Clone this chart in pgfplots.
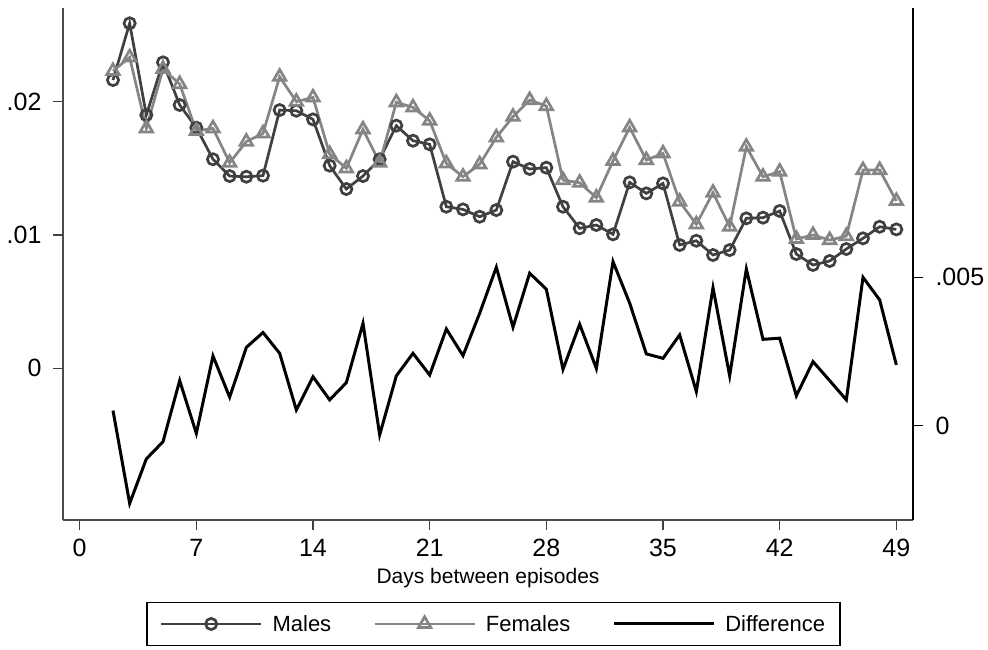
\documentclass[border=0pt]{standalone}
\usepackage{pgfplots}
\pgfplotsset{compat=1.18}
\usepackage{fontspec}
\setmainfont{Liberation Sans}
\definecolor{mgray}{HTML}{404040}
\definecolor{fgray}{HTML}{858585}
\pgfplotstableread{
x m f
2 0.02162 0.02230
3 0.02588 0.02332
4 0.01900 0.01800
5 0.02295 0.02245
6 0.01975 0.02132
7 0.01805 0.01780
8 0.01568 0.01800
9 0.01442 0.01542
10 0.01437 0.01700
11 0.01445 0.01762
12 0.01937 0.02187
13 0.01932 0.02000
14 0.01867 0.02032
15 0.01520 0.01607
16 0.01345 0.01500
17 0.01442 0.01792
18 0.01568 0.01542
19 0.01820 0.01995
20 0.01707 0.01957
21 0.01680 0.01857
22 0.01212 0.01537
23 0.01192 0.01437
24 0.01137 0.01530
25 0.01187 0.01732
26 0.01550 0.01887
27 0.01495 0.02012
28 0.01505 0.01967
29 0.01212 0.01412
30 0.01050 0.01392
31 0.01075 0.01280
32 0.01005 0.01555
33 0.01395 0.01807
34 0.01312 0.01562
35 0.01387 0.01612
36 0.00925 0.01250
37 0.00957 0.01080
38 0.00850 0.01317
39 0.00887 0.01062
40 0.01125 0.01662
41 0.01130 0.01437
42 0.01180 0.01475
43 0.00857 0.00970
44 0.00775 0.01000
45 0.00805 0.00962
46 0.00895 0.00992
47 0.00975 0.01487
48 0.01062 0.01487
49 0.01042 0.01255
}\mf
\pgfplotstableread{
x d
2 0.00051
3 -0.00262
4 -0.00112
5 -0.00054
6 0.00152
7 -0.00026
8 0.00235
9 0.00096
10 0.00264
11 0.00314
12 0.00244
13 0.00053
14 0.00165
15 0.00087
16 0.00145
17 0.00345
18 -0.00031
19 0.00168
20 0.00244
21 0.00171
22 0.00326
23 0.00236
24 0.00379
25 0.00534
26 0.00332
27 0.00514
28 0.00460
29 0.00190
30 0.00342
31 0.00193
32 0.00553
33 0.00413
34 0.00242
35 0.00227
36 0.00306
37 0.00115
38 0.00465
39 0.00168
40 0.00528
41 0.00291
42 0.00295
43 0.00101
44 0.00216
45 0.00152
46 0.00087
47 0.00500
48 0.00424
49 0.00205
}\diff
\pgfplotsset{
  malestyle/.style={color=mgray, line width=2.7pt, mark=o, mark size=5.6pt, mark options={solid, line width=2.7pt}},
  femalestyle/.style={color=fgray, line width=2.7pt, mark=triangle, mark size=7.2pt, mark options={solid, line width=2.7pt}},
  diffstyle/.style={color=black, line width=3pt, no markers},
}
\begin{document}
\begin{tikzpicture}
\path[use as bounding box] (-63pt,-130pt) rectangle (925pt,520pt);
\begin{axis}[
  width=850pt, height=512pt, scale only axis,
  xmin=-1, xmax=50, ymin=-0.011375, ymax=0.027025,
  axis x line*=bottom, axis y line*=left,
  axis line style={line width=1.8pt, black!70},
  xtick={0,7,...,49}, ytick={0,0.01,0.02}, yticklabels={0,.01,.02},
  tick align=outside, major tick length=10pt,
  every tick/.style={line width=1.5pt, black!75},
  tick label style={font=\fontsize{25}{29}\selectfont},
  yticklabel style={xshift=-8pt},
  xticklabel style={yshift=-6pt},
  /pgf/number format/assume math mode=true,
  xlabel={Days between episodes},
  xlabel style={font=\fontsize{21}{25}\selectfont, at={(axis description cs:0.5,-0.1133)}, anchor=center},
]
\addplot[malestyle] table[x=x, y=m] {\mf};
\addplot[femalestyle] table[x=x, y=f] {\mf};
\end{axis}
\begin{axis}[
  width=850pt, height=512pt, scale only axis,
  xmin=-1, xmax=50, ymin=-0.003179, ymax=0.014079,
  axis x line=none, xtick=\empty, axis y line*=right,
  axis line style={line width=1.8pt, black},
  ytick={0,0.005}, yticklabels={0,.005},
  tick align=outside, major tick length=10pt,
  every tick/.style={line width=1.5pt, black},
  tick label style={font=\fontsize{25}{29}\selectfont},
  yticklabel style={xshift=9pt},
  /pgf/number format/assume math mode=true,
  legend columns=3,
  legend image code/.code={\draw[mark repeat=2,mark phase=2,#1] plot coordinates {(0pt,0pt) (50pt,0pt) (100pt,0pt)};},
  legend style={at={(0.5065,-0.2031)}, anchor=center, draw=black, line width=1.4pt,
    font=\fontsize{22}{26}\selectfont, inner xsep=13pt, inner ysep=11pt,
    /tikz/every odd column/.append style={column sep=8pt},
    /tikz/every even column/.append style={column sep=40pt}},
]
\addlegendimage{malestyle}
\addlegendimage{femalestyle}
\addplot[diffstyle] table[x=x, y=d] {\diff};
\legend{Males,Females,Difference}
\end{axis}
\end{tikzpicture}
\end{document}
